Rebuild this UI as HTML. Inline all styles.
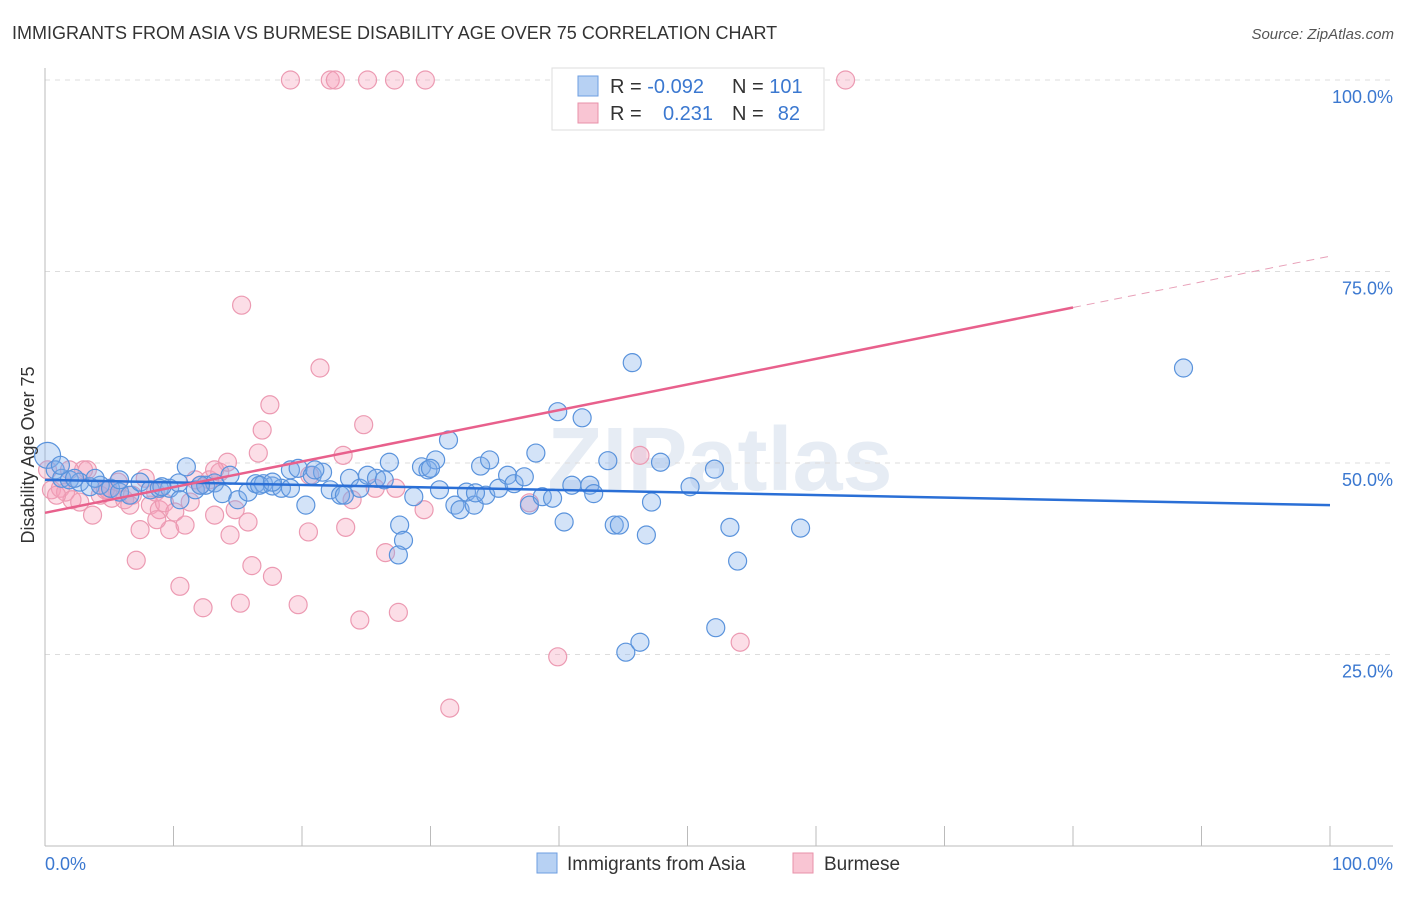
<!DOCTYPE html>
<html><head><meta charset="utf-8"><style>
body{margin:0;background:#fff;font-family:"Liberation Sans",sans-serif}
svg text{font-family:"Liberation Sans",sans-serif}
</style></head><body>
<svg id="chart" width="1406" height="892" viewBox="0 0 1406 892" xmlns="http://www.w3.org/2000/svg">
<text x="12" y="39" font-size="18" fill="#333">IMMIGRANTS FROM ASIA VS BURMESE DISABILITY AGE OVER 75 CORRELATION CHART</text>
<text x="1394" y="39" font-size="15" fill="#555" font-style="italic" text-anchor="end">Source: ZipAtlas.com</text>
<text x="720" y="490" font-size="90" fill="#e6ecf4" text-anchor="middle" font-weight="bold">ZIPatlas</text>
<g id="grid"></g>
<g id="axes"></g>
<g id="pts"></g>
<g id="lines"></g>
<text transform="translate(34,455) rotate(-90)" font-size="18" fill="#333" text-anchor="middle">Disability Age Over 75</text>
<text x="45" y="870" font-size="18" fill="#3b78d0">0.0%</text>
<text x="1393" y="870" font-size="18" fill="#3b78d0" text-anchor="end">100.0%</text>
<g>
<rect x="552" y="68" width="272" height="62" fill="#fff" stroke="#ddd"/>
<rect x="578" y="76" width="20" height="20" fill="#b7d1f3" stroke="#6d9ee0"/>
<rect x="578" y="103" width="20" height="20" fill="#f9c5d3" stroke="#e891aa"/>
<text x="610" y="93" font-size="20" fill="#333">R = <tspan fill="#3b78d0">-0.092</tspan></text>
<text x="732" y="93" font-size="20" fill="#333">N = <tspan fill="#3b78d0">101</tspan></text>
<text x="610" y="120" font-size="20" fill="#333">R = </text>
<text x="713" y="120" font-size="20" fill="#3b78d0" text-anchor="end">0.231</text>
<text x="732" y="120" font-size="20" fill="#333">N = </text>
<text x="800" y="120" font-size="20" fill="#3b78d0" text-anchor="end">82</text>
</g>
<g>
<rect x="537" y="853" width="20" height="20" fill="#b7d1f3" stroke="#6d9ee0"/>
<text x="567" y="870" font-size="19" fill="#333">Immigrants from Asia</text>
<rect x="793" y="853" width="20" height="20" fill="#f9c5d3" stroke="#e891aa"/>
<text x="824" y="870" font-size="19" fill="#333">Burmese</text>
</g>
</svg>
<script>
const yTicks=[100,75,50,25];
const yTickLabels=["100.0%","75.0%","50.0%","25.0%"];
const xTicks=[0,10,20,30,40,50,60,70,80,90,100];
const asiaX=[0.2,0.8,1.3,1.9,2.7,3.5,4.3,5.1,5.8,6.6,7.4,8.2,8.9,9.7,10.4,11.0,11.7,12.5,13.2,13.8,14.4,15.0,15.8,16.4,17.0,17.7,18.4,19.1,19.7,20.3,20.8,21.6,22.2,23.0,23.7,24.5,25.1,25.8,26.4,26.8,27.6,27.9,27.5,28.7,29.3,29.8,30.4,30.7,31.4,31.9,32.3,32.8,33.4,33.9,34.3,34.6,35.3,36.0,36.5,37.3,37.7,38.2,38.7,39.5,39.9,40.4,41.0,41.8,42.4,42.7,43.8,44.3,44.7,45.2,45.7,46.3,46.8,47.2,47.9,50.2,52.1,52.2,53.3,53.9,58.8,88.6,16.7,12.1,5.8,3.9,1.2,2.3,10.5,23.3,19.1,9.1,17.7,21.0,30.0,33.5];
const asiaY=[51.0,49.1,48.0,47.8,47.5,46.9,47.1,46.7,46.2,45.8,47.5,46.5,46.7,46.7,47.4,49.5,46.5,47.1,47.4,46.0,48.4,45.2,46.2,47.3,47.3,47.0,46.7,49.1,49.3,44.5,48.4,48.8,46.5,45.8,48.0,46.7,48.4,48.0,47.8,50.1,41.9,39.9,38.0,45.6,49.5,49.1,50.4,46.5,53.0,44.5,43.9,46.2,44.5,49.6,45.8,50.4,46.7,48.4,47.3,48.2,44.5,51.3,45.6,45.4,56.7,42.3,47.1,55.9,47.1,46.0,50.3,41.9,41.9,25.3,63.1,26.6,40.6,44.9,50.1,46.9,49.2,28.5,41.6,37.2,41.5,62.4,47.1,47.1,47.8,48.0,49.7,48.0,45.2,45.8,46.7,46.9,47.5,49.1,49.3,46.1];
const burX=[0.2,0.5,1.2,1.6,2.1,2.7,3.0,3.7,4.3,4.7,5.2,5.7,6.2,6.8,7.1,7.4,7.8,8.2,8.6,8.9,9.3,9.7,10.1,10.5,10.9,11.3,11.7,12.3,12.8,13.2,13.6,14.2,14.4,14.8,15.2,15.3,15.8,16.1,16.6,16.9,17.5,17.7,19.1,19.7,20.5,20.6,21.4,22.2,22.6,23.2,23.4,23.9,24.5,24.8,25.1,25.7,26.5,27.2,27.3,27.5,29.5,29.6,31.5,37.7,39.9,46.3,54.1,62.3,3.3,0.9,6.6,4.9,12.1,13.2,8.7,1.9];
const burY=[49.1,46.5,46.7,46.2,45.2,44.9,49.1,43.2,45.8,46.5,45.4,47.5,45.2,45.8,37.3,41.3,48.0,44.5,46.2,43.9,44.8,41.3,43.6,33.9,41.9,44.9,47.8,31.1,47.8,43.2,48.8,50.1,40.6,43.9,31.7,70.6,42.3,36.6,51.3,54.3,57.6,35.2,100,31.5,41.0,48.4,62.4,100,100,51.0,41.6,45.2,29.5,55.0,100,46.7,38.3,100,46.7,30.5,43.9,100,18.0,44.8,24.7,51.0,26.6,100,49.1,45.8,44.5,46.5,47.1,49.1,42.6,49.1];
const asiaTrend=[47.8,44.5];      // y at x=0, x=100
const burTrend=[43.5,77.0];       // y at x=0, x=100
const burSolidEnd=80;
const NS="http://www.w3.org/2000/svg";
const X=v=>45+v*12.85, Y=v=>846-v*7.66;
function mk(tag,attrs,parent){const e=document.createElementNS(NS,tag);for(const k in attrs)e.setAttribute(k,attrs[k]);document.getElementById(parent).appendChild(e);return e;}
yTicks.forEach((t,i)=>{
 const l=mk('line',{x1:45,x2:1393,y1:Y(t),y2:Y(t),stroke:'#ddd','stroke-dasharray':'5,5'},'grid');
 
 
 const tx=mk('text',{x:1393,y:Y(t)+23,'font-size':18,fill:'#3b78d0','text-anchor':'end'},'grid');
 tx.textContent=yTickLabels[i];
 
 
});
let a=mk('line',{x1:45,x2:45,y1:68,y2:846,stroke:'#bbb'},'axes');


a=mk('line',{x1:45,x2:1393,y1:846,y2:846,stroke:'#bbb'},'axes');


xTicks.forEach(t=>{const l=mk('line',{x1:X(t),x2:X(t),y1:826,y2:846,stroke:'#bbb'},'axes');
 
 });
burX.forEach((x,i)=>{const c=mk('circle',{cx:X(x),cy:Y(burY[i]),r:9,fill:'rgba(245,160,185,0.35)',stroke:'#ec9ab2','stroke-width':1.2},'pts');
 
 });
asiaX.forEach((x,i)=>{const c=mk('circle',{cx:X(x),cy:Y(asiaY[i]),r:i===0?13:9,fill:'rgba(130,175,235,0.35)',stroke:'#5a93dc','stroke-width':1.2},'pts');
 
 });
let l=mk('line',{x1:X(0),y1:Y(asiaTrend[0]),x2:X(100),y2:Y(asiaTrend[1]),stroke:'#2a6fd6','stroke-width':2.5},'lines');


const by=x=>burTrend[0]+(burTrend[1]-burTrend[0])*x/100;
l=mk('line',{x1:X(0),y1:Y(by(0)),x2:X(burSolidEnd),y2:Y(by(burSolidEnd)),stroke:'#e8608c','stroke-width':2.5},'lines');


l=mk('line',{x1:X(burSolidEnd),y1:Y(by(burSolidEnd)),x2:X(100),y2:Y(by(100)),stroke:'#e8a0b8','stroke-width':1,'stroke-dasharray':'8,6'},'lines');


</script>
</body></html>
